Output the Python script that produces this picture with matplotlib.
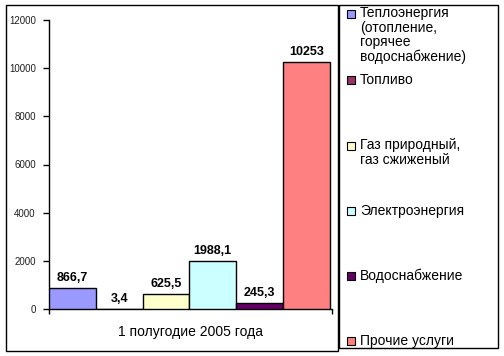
import matplotlib
matplotlib.use('Agg')
import matplotlib.pyplot as plt
from matplotlib.patches import Rectangle

plt.rcParams['font.family'] = ['Liberation Sans', 'DejaVu Sans']

categories = ['Теплоэнергия\n(отопление,\nгорячее\nводоснабжение)',
              'Топливо',
              'Газ природный,\nгаз сжиженый',
              'Электроэнергия',
              'Водоснабжение',
              'Прочие услуги']
values = [866.7, 3.4, 625.5, 1988.1, 245.3, 10253]
value_labels = ['866,7', '3,4', '625,5', '1988,1', '245,3', '10253']
colors = ['#9999FF', '#993366', '#FFFFCC', '#CCFFFF', '#660066', '#FF8080']
yticks = [0, 2000, 4000, 6000, 8000, 10000, 12000]
xlabel = '1 полугодие 2005 года'

W, H = 504, 356
fig = plt.figure(figsize=(W / 100, H / 100), dpi=100)
fig.patch.set_facecolor('white')


def fx(px):
    return px / W


def fy(py):
    return 1 - py / H


ax = fig.add_axes([fx(49), fy(309), fx(332) - fx(49), fy(20) - fy(309)])
xs = list(range(len(values)))
ax.bar(xs, values, width=1.0, color=colors, edgecolor='black', linewidth=1.0, zorder=3)
ax.set_xlim(-0.5, 5.55)
ax.set_ylim(0, 12000)
ax.set_yticks(yticks)
ax.set_yticklabels([str(t) for t in yticks], fontsize=7, color='#202020')
ax.tick_params(axis='y', length=4.5, width=1, direction='out', pad=5)
ax.set_xticks([-0.5, 5.55])
ax.set_xticklabels(['', ''])
ax.tick_params(axis='x', length=3.5, width=1, direction='out')
for s in ['top', 'right']:
    ax.spines[s].set_visible(False)
for s in ['left', 'bottom']:
    ax.spines[s].set_linewidth(1)
ax.patch.set_alpha(0)

for x, v, lab in zip(xs, values, value_labels):
    ax.annotate(lab, (x, v), xytext=(0, 3), textcoords='offset points',
                ha='center', va='bottom', fontsize=9, fontweight='bold')

fig.text(fx(190), fy(332), xlabel, ha='center', va='center', fontsize=10)

# chart frame and legend frame
fig.add_artist(Rectangle((fx(6), fy(351)), fx(338) - fx(6), fy(5) - fy(351),
                         transform=fig.transFigure, fill=False, lw=1, ec='black'))
fig.add_artist(Rectangle((fx(339), fy(348)), fx(498) - fx(339), fy(5) - fy(348),
                         transform=fig.transFigure, fill=False, lw=1, ec='black'))

row_y = [14, 80, 146, 211, 276, 341]
for cat, col, ry in zip(categories, colors, row_y):
    fig.add_artist(Rectangle((fx(347), fy(ry + 4)), fx(355) - fx(347), fy(ry - 4) - fy(ry + 4),
                             transform=fig.transFigure, fc=col, ec='black', lw=0.8))
    fig.text(fx(360), fy(ry - 7.5), cat, ha='left', va='top', fontsize=10,
             linespacing=1.03)

fig.savefig('out.png', dpi=100)
